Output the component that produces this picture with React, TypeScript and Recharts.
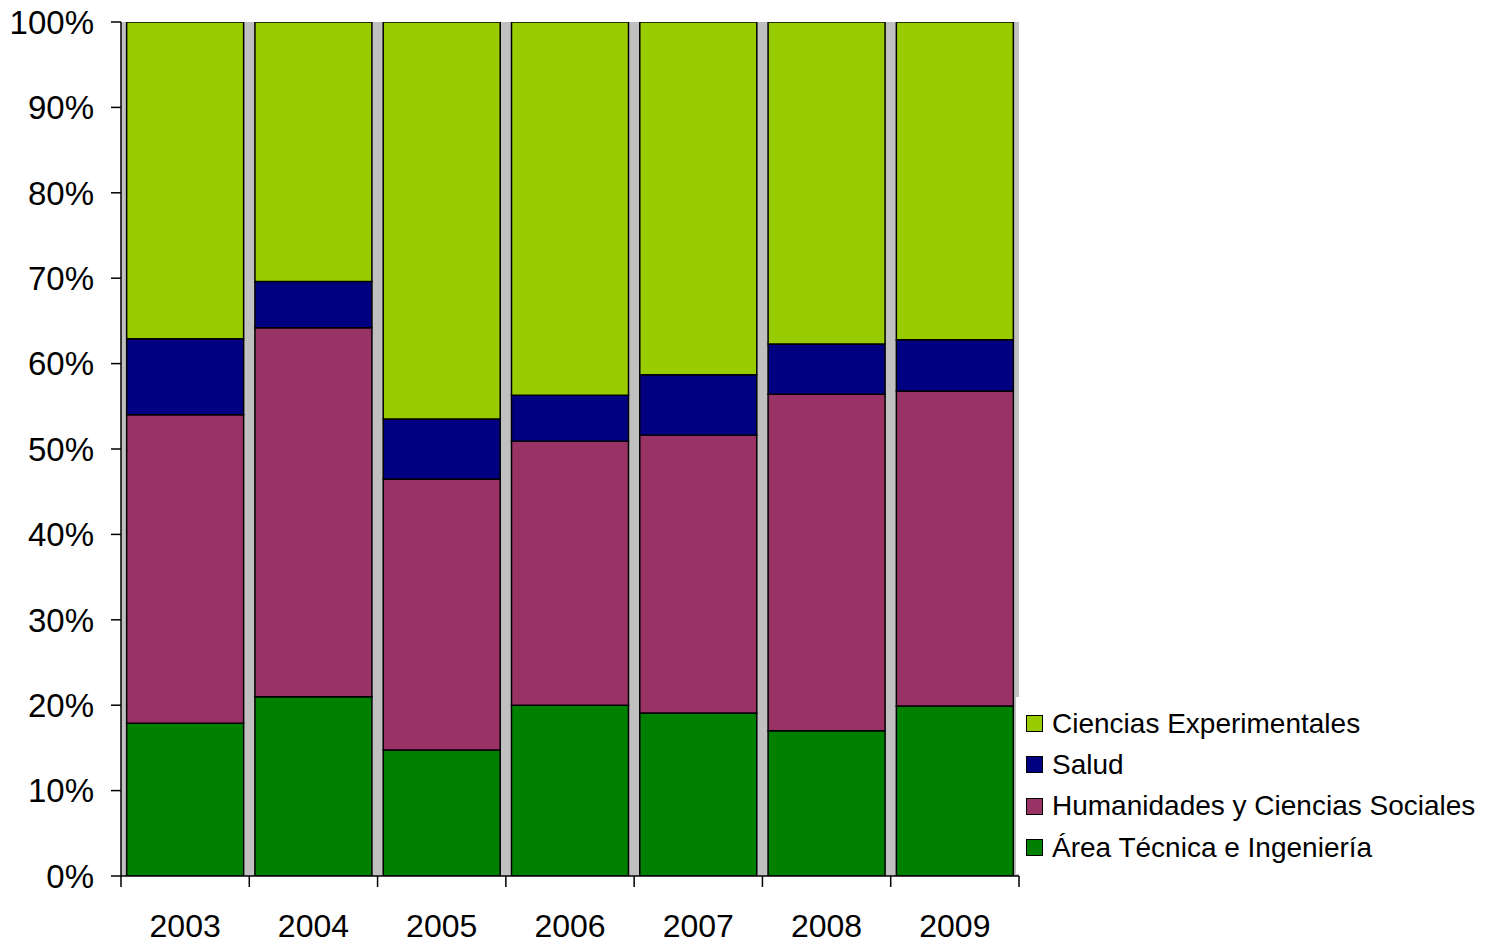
import React from "react";
import { ComposedChart, Bar, XAxis, YAxis, CartesianGrid, Legend } from "recharts";

const years = ["2003", "2004", "2005", "2006", "2007", "2008", "2009"];
const areaTecnica = [17.9, 21.0, 14.75, 20.0, 19.1, 17.0, 19.9];
const humanidades = [36.1, 43.2, 31.75, 30.9, 32.5, 39.4, 36.9];
const salud = [8.9, 5.4, 7.0, 5.4, 7.1, 5.9, 6.0];
const cienciasExp = [37.1, 30.4, 46.5, 43.7, 41.3, 37.7, 37.2];
const yTicks = [0, 10, 20, 30, 40, 50, 60, 70, 80, 90, 100];

const seriesNames = {
  tec: "Área Técnica e Ingeniería",
  hum: "Humanidades y Ciencias Sociales",
  sal: "Salud",
  exp: "Ciencias Experimentales",
};
const colors = { tec: "#008000", hum: "#993366", sal: "#000080", exp: "#99CC00" };

const data = years.map((y, i) => ({
  year: y,
  tec: areaTecnica[i],
  hum: humanidades[i],
  sal: salud[i],
  exp: cienciasExp[i],
}));

const W = 1491;
const H = 942;
const M = { top: 22, right: 472, left: 0, bottom: 6 };
const Y_AXIS_W = 121;
const X_AXIS_H = 60;
const PLOT_W = W - M.left - M.right - Y_AXIS_W;
const BAND = PLOT_W / years.length;
const FONT = "'Liberation Sans', Arial, sans-serif";

const XTick = (props: any) => {
  const { x, y, payload, index } = props;
  const last = index === years.length - 1;
  return (
    <g>
      <line x1={x - BAND / 2} x2={x - BAND / 2} y1={y} y2={y + 11} stroke="#000" strokeWidth={1.5} />
      {last && <line x1={x + BAND / 2} x2={x + BAND / 2} y1={y} y2={y + 11} stroke="#000" strokeWidth={1.5} />}
      <text x={x} y={y + 61} textAnchor="middle" fontSize={32} fill="#000" fontFamily={FONT}>
        {payload.value}
      </text>
    </g>
  );
};

const legendOrder: (keyof typeof seriesNames)[] = ["exp", "sal", "hum", "tec"];

const LegendContent = () => (
  <div style={{ background: "#fff", padding: "6px 0 6px 10px", width: 475, boxSizing: "border-box" }}>
    {legendOrder.map((k) => (
      <div key={k} style={{ display: "flex", alignItems: "center", height: 41.3 }}>
        <span
          style={{
            display: "inline-block",
            width: 15,
            height: 15,
            background: colors[k],
            border: "1.5px solid #000",
            marginRight: 9,
          }}
        />
        <span style={{ fontFamily: FONT, fontSize: 28, color: "#000", whiteSpace: "nowrap" }}>
          {seriesNames[k]}
        </span>
      </div>
    ))}
  </div>
);

export default function App() {
  return (
    <div style={{ position: "absolute", left: 0, top: 0, width: W, height: H, background: "#fff" }}>
      <ComposedChart width={W} height={H} data={data} margin={M} barCategoryGap="4.4%">
        <CartesianGrid horizontal={false} vertical={false} fill="#C0C0C0" fillOpacity={1} stroke="none" />
        <XAxis
          dataKey="year"
          height={X_AXIS_H}
          tickLine={false}
          tickSize={0}
          tickMargin={0}
          axisLine={{ stroke: "#000", strokeWidth: 1.5 }}
          tick={<XTick />}
          interval={0}
        />
        <YAxis
          width={Y_AXIS_W}
          domain={[0, 100]}
          ticks={yTicks}
          allowDataOverflow
          tickFormatter={(v: number) => `${v}%`}
          tickSize={10}
          tickMargin={17}
          tickLine={{ stroke: "#000", strokeWidth: 1.5 }}
          axisLine={{ stroke: "#000", strokeWidth: 1.5 }}
          tick={{ fontSize: 33, fill: "#000", fontFamily: FONT }}
        />
        <Bar dataKey="tec" name={seriesNames.tec} stackId="a" fill={colors.tec} stroke="#000" strokeWidth={1.5} isAnimationActive={false} />
        <Bar dataKey="hum" name={seriesNames.hum} stackId="a" fill={colors.hum} stroke="#000" strokeWidth={1.5} isAnimationActive={false} />
        <Bar dataKey="sal" name={seriesNames.sal} stackId="a" fill={colors.sal} stroke="#000" strokeWidth={1.5} isAnimationActive={false} />
        <Bar dataKey="exp" name={seriesNames.exp} stackId="a" fill={colors.exp} stroke="#000" strokeWidth={1.5} isAnimationActive={false} />
        <Legend
          layout="vertical"
          align="center"
          verticalAlign="middle"
          content={<LegendContent />}
          wrapperStyle={{ position: "absolute", left: 1016, top: 697, width: 475, margin: 0 }}
        />
      </ComposedChart>
    </div>
  );
}
